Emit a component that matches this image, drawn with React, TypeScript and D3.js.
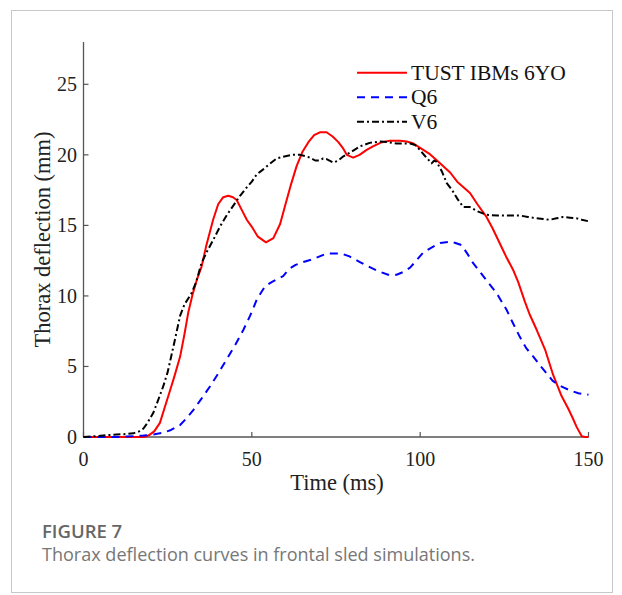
import React from "react";
import * as d3 from "d3";

const xTicks = [0, 50, 100, 150];
const yTicks = [0, 5, 10, 15, 20, 25];
const seriesNames = ["TUST IBMs 6YO", "Q6", "V6"];

const redT = [0,10,18,19.3,21,22.7,24,25.7,27,28.7,30,31.1,32.5,33.6,35.1,36.5,38.5,40,41.5,43,44.4,45.5,47,48.5,50,51.8,54.2,56.4,58.4,60,61.5,63.3,65,66.8,68.5,70.2,72.2,74,75.7,77,78.2,80.1,82,84.1,86,88.6,91,94,96,98,100,102.9,105,108.9,111,114.8,117,119.7,121.5,123.7,125.5,127.7,129.1,131.1,132.5,134.6,137.1,139.5,141,142,144,145.2,146.5,148,149,150];
const redV = [0,0,0,0.1,0.4,1.0,2.0,3.3,4.3,5.7,7.3,8.8,10.2,11.1,12.1,13.6,15.4,16.5,17.0,17.1,17.0,16.8,16.1,15.4,14.9,14.2,13.8,14.1,15.1,16.5,17.8,19.2,20.2,20.9,21.4,21.6,21.6,21.3,20.9,20.5,20.0,19.8,20.0,20.35,20.6,20.9,21.0,21.0,20.95,20.8,20.5,20.05,19.6,18.75,18.1,17.3,16.5,15.6,14.8,13.7,12.8,11.8,11.0,9.6,8.7,7.6,6.2,4.4,3.5,2.9,2.0,1.4,0.7,0.05,0,0];

const blueT = [0,10,17.8,20,23.7,26,28.7,30.5,32.6,35,37.6,40,42.5,45,47.5,49.5,51.4,52.9,54,56,59.3,61,63,65.3,68,72.2,76.7,79,82.1,84.5,87.1,90.5,93,95,97,99,101,103.9,106,108.9,110.5,112.3,114,115.8,117.8,119.7,121.7,123.2,125.7,127.5,129.6,131.5,133.6,135.5,137.6,139.3,141,142.7,144.5,147,150];
const blueV = [0,0,0.1,0.15,0.3,0.5,0.85,1.3,1.9,2.7,3.6,4.5,5.5,6.5,7.6,8.6,9.7,10.3,10.7,11.0,11.4,11.9,12.2,12.4,12.6,13.0,13.0,12.8,12.4,12.1,11.8,11.5,11.5,11.7,12.0,12.55,13.1,13.5,13.75,13.85,13.75,13.6,13.0,12.3,11.7,11.1,10.5,10.0,9.0,8.1,7.1,6.3,5.7,5.1,4.5,4.0,3.7,3.5,3.3,3.1,3.0];

const blackT = [0,3,8,12,14.8,16.5,17.8,19,20.7,22,23.7,25,26.7,28.7,30,32.1,33.5,35,36.8,38.6,40.5,42.5,44.5,46.5,48.5,50,51.4,53,55,57.4,60,62,64.3,66,67.3,68.8,70.2,71.2,72.2,74.2,75.7,77.2,79.5,82.1,85,88.1,90.5,93,95,97,98.5,99.9,101.5,103.4,104.2,104.9,106.5,107.9,109.5,111,112.8,114.8,117,119.7,123,126,129.6,132,134.6,136.5,138.5,140.5,142.5,144.5,146.5,148,149.9];
const blackV = [0,0.05,0.15,0.2,0.26,0.4,0.6,1.0,1.7,2.5,3.6,4.6,6.4,8.6,9.4,10.2,11.0,12.3,13.2,14.0,14.9,15.7,16.4,17.1,17.7,18.1,18.6,18.9,19.3,19.75,19.9,20.0,20.0,19.9,19.8,19.6,19.6,19.75,19.7,19.45,19.6,19.9,20.2,20.6,20.85,20.95,20.9,20.8,20.8,20.8,20.7,20.35,19.9,19.4,19.6,19.5,18.8,18.0,17.5,16.9,16.3,16.3,16.0,15.75,15.7,15.7,15.7,15.6,15.5,15.45,15.4,15.5,15.6,15.55,15.5,15.4,15.3];

const colors = ["#ff0000", "#0000ff", "#000000"];
const dashes = [undefined, "8,6", "7,3,2,3"];

export default function App() {
  const x = d3.scaleLinear().domain([0, 150]).range([83.5, 588.5]);
  const y = d3.scaleLinear().domain([0, 28]).range([437, 42]);
  const line = d3.line<[number, number]>().x(d => x(d[0])).y(d => y(d[1]));
  const series = [
    redT.map((t, i) => [t, redV[i]] as [number, number]),
    blueT.map((t, i) => [t, blueV[i]] as [number, number]),
    blackT.map((t, i) => [t, blackV[i]] as [number, number]),
  ];
  const serif = "'Liberation Serif', 'Times New Roman', serif";
  const sans = "'Open Sans', 'Noto Sans', sans-serif";
  const axisColor = "#555";
  return (
    <svg width={622} height={595} style={{ position: "absolute", left: 0, top: 0, background: "#fff" }}>
      <rect x={11.5} y={10.5} width={601} height={582} fill="none" stroke="#c8c8c8" strokeWidth={1} />
      {/* axes */}
      <line x1={x(0)} x2={x(0)} y1={y(0)} y2={y(28)} stroke={axisColor} strokeWidth={1.3} />
      <line x1={x(0)} x2={x(150)} y1={y(0)} y2={y(0)} stroke={axisColor} strokeWidth={1.3} />
      {yTicks.map(t => (
        <g key={"y" + t}>
          <line x1={x(0)} x2={x(0) + 5} y1={y(t)} y2={y(t)} stroke={axisColor} strokeWidth={1.2} />
          <text x={77} y={y(t)} dy="0.35em" textAnchor="end" fontFamily={serif} fontSize={20} fill="#222">{t}</text>
        </g>
      ))}
      {xTicks.map(t => (
        <g key={"x" + t}>
          <line x1={x(t)} x2={x(t)} y1={y(0)} y2={y(0) - 5} stroke={axisColor} strokeWidth={1.2} />
          <text x={x(t)} y={466} textAnchor="middle" fontFamily={serif} fontSize={20} fill="#222">{t}</text>
        </g>
      ))}
      <text x={337} y={490} textAnchor="middle" fontFamily={serif} fontSize={22.5} fill="#222">Time (ms)</text>
      <text transform={`translate(50,${(y(0) + y(28)) / 2}) rotate(-90)`} textAnchor="middle" fontFamily={serif} fontSize={22.5} fill="#222">Thorax deflection (mm)</text>
      {/* series */}
      {series.map((s, i) => (
        <path key={i} d={line(s) || ""} fill="none" stroke={colors[i]} strokeWidth={2} strokeDasharray={dashes[i]} strokeLinejoin="round" />
      ))}
      {/* legend */}
      {seriesNames.map((n, i) => {
        const ly = 72.7 + i * 24.5;
        return (
          <g key={n}>
            <line x1={357} x2={407} y1={ly} y2={ly} stroke={colors[i]} strokeWidth={2} strokeDasharray={dashes[i]} />
            <text x={411} y={ly + 6.8} fontFamily={serif} fontSize={21.5} fill="#111">{n}</text>
          </g>
        );
      })}
      {/* caption */}
      <text x={42} y={538} fontFamily={sans} fontWeight={600} fontSize={18.5} fill="#666">FIGURE 7</text>
      <text x={42} y={561} fontFamily={sans} fontSize={18} fill="#777" textLength={433} lengthAdjust="spacingAndGlyphs">Thorax deflection curves in frontal sled simulations.</text>
    </svg>
  );
}
